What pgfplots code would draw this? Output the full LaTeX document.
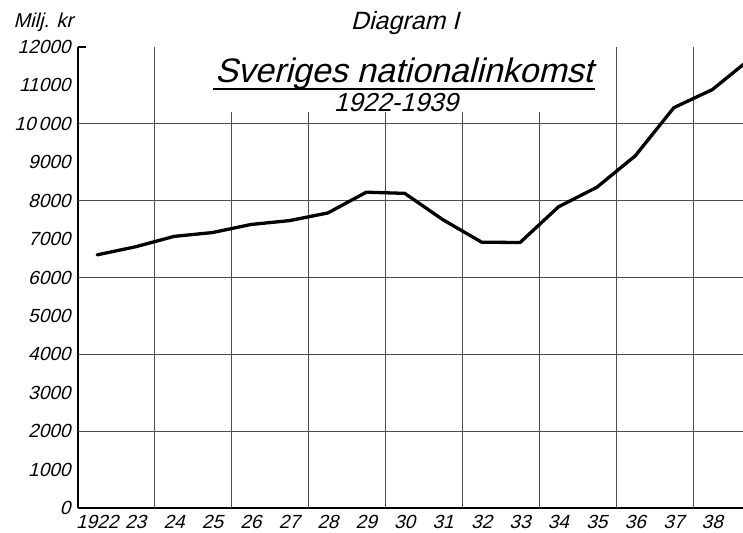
\documentclass[border=0pt]{standalone}
\usepackage{fontspec}
\setmainfont{Liberation Sans}[FakeSlant=0.25]
\usepackage{pgfplots}
\pgfplotsset{compat=1.18}
\begin{document}
\begin{tikzpicture}
\useasboundingbox (-78pt,-24pt) rectangle (665pt,508pt);
\begin{axis}[
  at={(0pt,0pt)}, anchor=south west,
  scale only axis, width=665pt, height=461pt,
  xmin=1921.5, xmax=1938.8, ymin=0, ymax=12000,
  scaled y ticks=false, scaled x ticks=false,
  axis x line*=bottom, axis y line*=left,
  axis line style={line width=1.3pt, -, black},
  xtick={1922,1923,1924,1925,1926,1927,1928,1929,1930,1931,1932,1933,1934,1935,1936,1937,1938},
  xticklabels={1922,23,24,25,26,27,28,29,30,31,32,33,34,35,36,37,38},
  ytick={0,1000,2000,3000,4000,5000,6000,7000,8000,9000,10000,11000,12000},
  yticklabels={0,1000,2000,3000,4000,5000,6000,7000,8000,9000,10\,000,11000,12000},
  major tick length=0pt,
  tick label style={font=\fontsize{19}{20}\selectfont},
  xticklabel style={anchor=north, yshift=-4pt},
  yticklabel style={anchor=east, xshift=-4pt},
  clip=true,
]
% grid lines
\draw[black!70, line width=0.9pt] (axis cs:1921.5,2000) -- (axis cs:1938.8,2000);
\draw[black!70, line width=0.9pt] (axis cs:1921.5,4000) -- (axis cs:1938.8,4000);
\draw[black!70, line width=0.9pt] (axis cs:1921.5,6000) -- (axis cs:1938.8,6000);
\draw[black!70, line width=0.9pt] (axis cs:1921.5,8000) -- (axis cs:1938.8,8000);
\draw[black!70, line width=0.9pt] (axis cs:1921.5,10000) -- (axis cs:1938.8,10000);
\draw[black!70, line width=0.9pt] (axis cs:1923.5,0) -- (axis cs:1923.5,12000);
\draw[black!70, line width=0.9pt] (axis cs:1925.5,0) -- (axis cs:1925.5,10300);
\draw[black!70, line width=0.9pt] (axis cs:1927.5,0) -- (axis cs:1927.5,10300);
\draw[black!70, line width=0.9pt] (axis cs:1929.5,0) -- (axis cs:1929.5,10300);
\draw[black!70, line width=0.9pt] (axis cs:1931.5,0) -- (axis cs:1931.5,10300);
\draw[black!70, line width=0.9pt] (axis cs:1933.5,0) -- (axis cs:1933.5,10300);
\draw[black!70, line width=0.9pt] (axis cs:1935.5,0) -- (axis cs:1935.5,12000);
\draw[black!70, line width=0.9pt] (axis cs:1937.5,0) -- (axis cs:1937.5,12000);
\draw[black, line width=1.2pt] (axis cs:1921.5,12000) -- (axis cs:1921.7,12000);
\addplot[black, line width=3.3pt, line join=round, line cap=round, mark=none] coordinates {
  (1922,6590) (1923,6800) (1924,7070) (1925,7170) (1926,7380) (1927,7480)
  (1928,7680) (1929,8220) (1930,8190) (1931,7500) (1932,6920) (1933,6910)
  (1934,7840) (1935,8350) (1936,9170) (1937,10420) (1938,10890) (1939,11700)
};
\end{axis}
\node[anchor=base west, font=\fontsize{20}{22}\selectfont] at (-68pt,480pt) {Milj. kr};
\node[anchor=base, font=\fontsize{25}{28}\selectfont] at (327pt,478pt) {Diagram I};
\node[anchor=base, font=\fontsize{34}{36}\selectfont] at (326pt,425pt) {Sveriges nationalinkomst};
\draw[black, line width=1.6pt] (135pt,419pt) -- (517pt,419pt);
\node[anchor=base, font=\fontsize{26}{28}\selectfont] at (318pt,396pt) {1922-1939};
\end{tikzpicture}
\end{document}
